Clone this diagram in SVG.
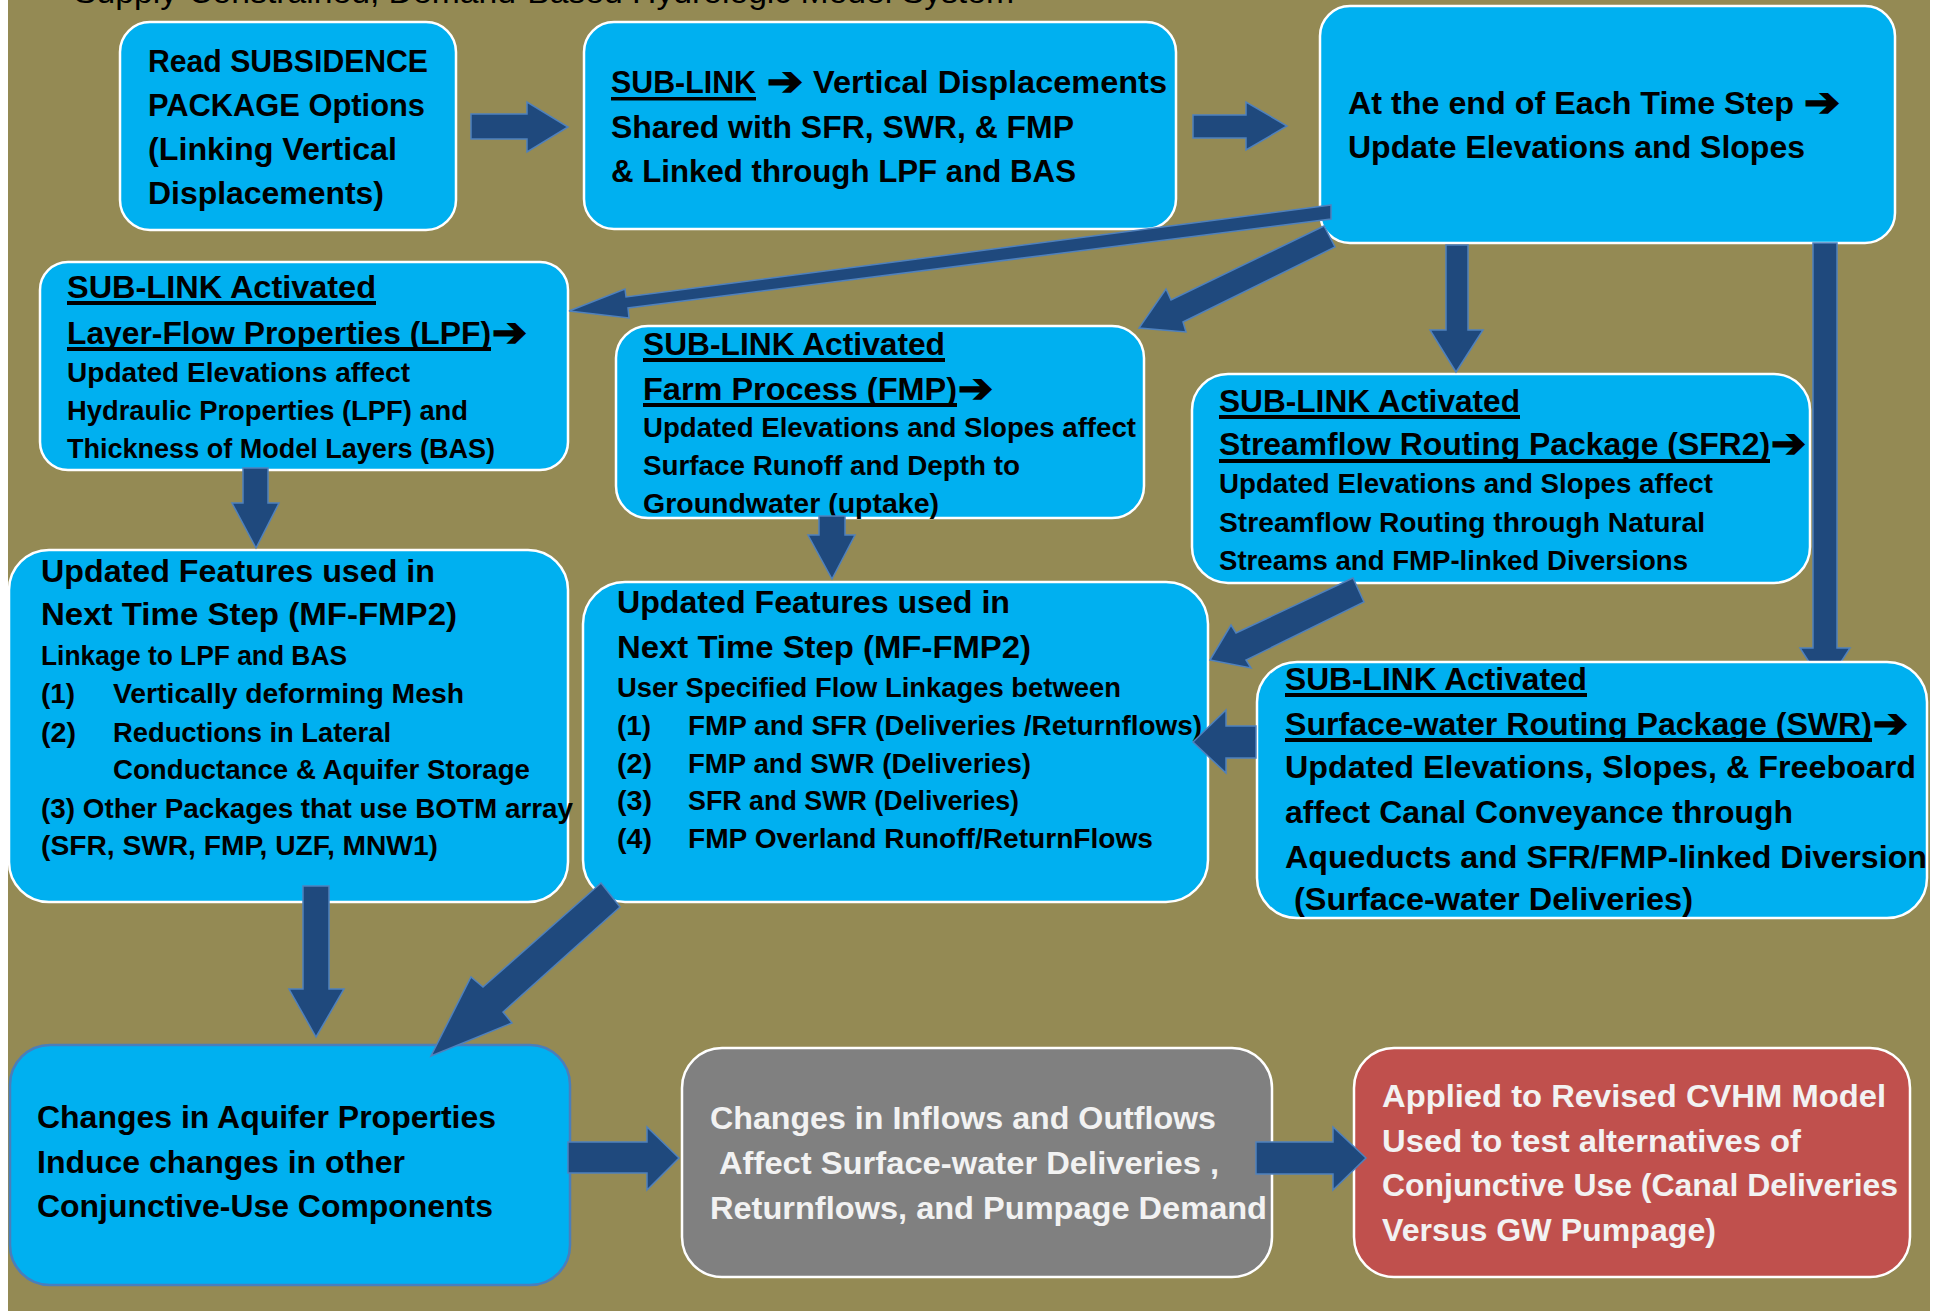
<svg xmlns="http://www.w3.org/2000/svg" width="1944" height="1311" viewBox="0 0 1944 1311">
<style>
.bx{fill:#00B0F0;stroke:#FFFFFF;stroke-width:2.5}
.gy{fill:#808080;stroke:#FFFFFF;stroke-width:2.5}
.rd{fill:#C0504D;stroke:#FFFFFF;stroke-width:2.5}
.aq{fill:#00B0F0;stroke:#4A7EBB;stroke-width:2.5}
.arr{fill:#1F497D;stroke:#4F81BD;stroke-width:1.5;stroke-linejoin:miter}
text{font-family:"Liberation Sans",Arial,sans-serif;font-weight:bold;fill:#000}
.b{font-size:32px}
.s{font-size:27px}
.lt{fill:#F2F2F2}
.ttl{font-weight:normal;font-size:32px}
.sym{font-family:"DejaVu Sans",sans-serif;font-size:40px;font-weight:bold;stroke:#000;stroke-width:1.6}
.ul{fill:#000}
</style>
<rect x="0" y="0" width="1944" height="1311" fill="#FFFFFF"/>
<rect x="8" y="0" width="1922" height="1311" fill="#948A54"/>
<text class="ttl" x="74" y="3" textLength="940" lengthAdjust="spacingAndGlyphs">Supply-Constrained, Demand-Based Hydrologic Model System</text>

<g id="node-read-subsidence">
<rect class="bx" x="120" y="22" width="336" height="208" rx="30"/>
<text class="b" x="148" y="72" textLength="280" lengthAdjust="spacingAndGlyphs">Read SUBSIDENCE</text>
<text class="b" x="148" y="116" textLength="277" lengthAdjust="spacingAndGlyphs">PACKAGE Options</text>
<text class="b" x="148" y="160" textLength="249" lengthAdjust="spacingAndGlyphs">(Linking Vertical</text>
<text class="b" x="148" y="204" textLength="236" lengthAdjust="spacingAndGlyphs">Displacements)</text>
</g>

<g id="node-sublink-vertical">
<rect class="bx" x="584" y="22" width="592" height="207" rx="30"/>
<text class="b" x="611" y="93" textLength="145" lengthAdjust="spacingAndGlyphs">SUB-LINK</text>
<rect class="ul" x="611" y="97" width="145" height="3.5"/>
<text class="sym" x="767" y="95" textLength="36" lengthAdjust="spacingAndGlyphs">➔</text>
<text class="b" x="813" y="93" textLength="354" lengthAdjust="spacingAndGlyphs">Vertical Displacements</text>
<text class="b" x="611" y="138" textLength="463" lengthAdjust="spacingAndGlyphs">Shared with SFR, SWR, &amp; FMP</text>
<text class="b" x="611" y="182" textLength="465" lengthAdjust="spacingAndGlyphs">&amp; Linked through LPF and BAS</text>
</g>

<g id="node-end-time-step">
<rect class="bx" x="1320" y="6" width="575" height="237" rx="30"/>
<text class="b" x="1348" y="114" textLength="446" lengthAdjust="spacingAndGlyphs">At the end of Each Time Step</text>
<text class="sym" x="1804" y="116" textLength="36" lengthAdjust="spacingAndGlyphs">➔</text>
<text class="b" x="1348" y="158" textLength="457" lengthAdjust="spacingAndGlyphs">Update Elevations and Slopes</text>
</g>

<g id="node-lpf">
<rect class="bx" x="40" y="262" width="528" height="208" rx="28"/>
<text class="b" x="67" y="298" textLength="309" lengthAdjust="spacingAndGlyphs">SUB-LINK  Activated</text>
<rect class="ul" x="67" y="301" width="309" height="4"/>
<text class="b" x="67" y="344" textLength="424" lengthAdjust="spacingAndGlyphs">Layer-Flow Properties (LPF)</text>
<rect class="ul" x="67" y="347" width="424" height="4"/>
<text class="sym" x="492" y="346" textLength="35" lengthAdjust="spacingAndGlyphs">➔</text>
<text class="s" x="67" y="382" textLength="343" lengthAdjust="spacingAndGlyphs">Updated Elevations affect</text>
<text class="s" x="67" y="420" textLength="401" lengthAdjust="spacingAndGlyphs">Hydraulic Properties (LPF) and</text>
<text class="s" x="67" y="458" textLength="428" lengthAdjust="spacingAndGlyphs">Thickness of Model Layers (BAS)</text>
</g>

<g id="node-fmp">
<rect class="bx" x="616" y="326" width="528" height="192" rx="32"/>
<text class="b" x="643" y="355" textLength="302" lengthAdjust="spacingAndGlyphs">SUB-LINK Activated</text>
<rect class="ul" x="643" y="358" width="302" height="4"/>
<text class="b" x="643" y="400" textLength="314" lengthAdjust="spacingAndGlyphs">Farm  Process (FMP)</text>
<rect class="ul" x="643" y="403" width="314" height="4"/>
<text class="sym" x="958" y="402" textLength="35" lengthAdjust="spacingAndGlyphs">➔</text>
<text class="s" x="643" y="437" textLength="493" lengthAdjust="spacingAndGlyphs">Updated Elevations and Slopes affect</text>
<text class="s" x="643" y="475" textLength="377" lengthAdjust="spacingAndGlyphs">Surface Runoff and Depth to</text>
<text class="s" x="643" y="513" textLength="296" lengthAdjust="spacingAndGlyphs">Groundwater (uptake)</text>
</g>

<g id="node-sfr2">
<rect class="bx" x="1192" y="374" width="618" height="209" rx="36"/>
<text class="b" x="1219" y="412" textLength="301" lengthAdjust="spacingAndGlyphs">SUB-LINK Activated</text>
<rect class="ul" x="1219" y="415" width="301" height="4"/>
<text class="b" x="1219" y="455" textLength="551" lengthAdjust="spacingAndGlyphs">Streamflow Routing Package (SFR2)</text>
<rect class="ul" x="1219" y="459" width="551" height="4"/>
<text class="sym" x="1771" y="457" textLength="35" lengthAdjust="spacingAndGlyphs">➔</text>
<text class="s" x="1219" y="493" textLength="494" lengthAdjust="spacingAndGlyphs">Updated Elevations and Slopes affect</text>
<text class="s" x="1219" y="532" textLength="486" lengthAdjust="spacingAndGlyphs">Streamflow Routing through Natural</text>
<text class="s" x="1219" y="570" textLength="469" lengthAdjust="spacingAndGlyphs">Streams and FMP-linked Diversions</text>
</g>

<g id="node-features-left">
<rect class="bx" x="9" y="550" width="559" height="352" rx="40"/>
<text class="b" x="41" y="582" textLength="394" lengthAdjust="spacingAndGlyphs">Updated Features used in</text>
<text class="b" x="41" y="625" textLength="416" lengthAdjust="spacingAndGlyphs">Next Time Step (MF-FMP2)</text>
<text class="s" x="41" y="665" textLength="306" lengthAdjust="spacingAndGlyphs">Linkage to LPF and BAS</text>
<text class="s" x="41" y="703" textLength="34" lengthAdjust="spacingAndGlyphs">(1)</text>
<text class="s" x="113" y="703" textLength="351" lengthAdjust="spacingAndGlyphs">Vertically deforming Mesh</text>
<text class="s" x="41" y="742" textLength="35" lengthAdjust="spacingAndGlyphs">(2)</text>
<text class="s" x="113" y="742" textLength="278" lengthAdjust="spacingAndGlyphs">Reductions in Lateral</text>
<text class="s" x="113" y="779" textLength="417" lengthAdjust="spacingAndGlyphs">Conductance &amp; Aquifer Storage</text>
<text class="s" x="41" y="818" textLength="532" lengthAdjust="spacingAndGlyphs">(3) Other Packages that use BOTM array</text>
<text class="s" x="41" y="855" textLength="397" lengthAdjust="spacingAndGlyphs">(SFR, SWR, FMP, UZF, MNW1)</text>
</g>

<g id="node-features-mid">
<rect class="bx" x="583" y="582" width="625" height="320" rx="42"/>
<text class="b" x="617" y="613" textLength="393" lengthAdjust="spacingAndGlyphs">Updated Features used in</text>
<text class="b" x="617" y="658" textLength="414" lengthAdjust="spacingAndGlyphs">Next Time Step (MF-FMP2)</text>
<text class="s" x="617" y="697" textLength="504" lengthAdjust="spacingAndGlyphs">User Specified Flow Linkages between</text>
<text class="s" x="617" y="735" textLength="34" lengthAdjust="spacingAndGlyphs">(1)</text>
<text class="s" x="688" y="735" textLength="514" lengthAdjust="spacingAndGlyphs">FMP and SFR (Deliveries /Returnflows)</text>
<text class="s" x="617" y="773" textLength="35" lengthAdjust="spacingAndGlyphs">(2)</text>
<text class="s" x="688" y="773" textLength="343" lengthAdjust="spacingAndGlyphs">FMP and SWR (Deliveries)</text>
<text class="s" x="617" y="810" textLength="35" lengthAdjust="spacingAndGlyphs">(3)</text>
<text class="s" x="688" y="810" textLength="331" lengthAdjust="spacingAndGlyphs">SFR and SWR (Deliveries)</text>
<text class="s" x="617" y="848" textLength="35" lengthAdjust="spacingAndGlyphs">(4)</text>
<text class="s" x="688" y="848" textLength="465" lengthAdjust="spacingAndGlyphs">FMP Overland Runoff/ReturnFlows</text>
</g>

<g id="connector-under">
<polygon class="arr" points="1813,243 1837,243 1837,648 1850,648 1841,662 1809,662 1800,648 1813,648"/>
</g>

<g id="node-swr">
<rect class="bx" x="1257" y="662" width="670" height="256" rx="40"/>
<text class="b" x="1285" y="690" textLength="302" lengthAdjust="spacingAndGlyphs">SUB-LINK Activated</text>
<rect class="ul" x="1285" y="693" width="302" height="4"/>
<text class="b" x="1285" y="735" textLength="587" lengthAdjust="spacingAndGlyphs">Surface-water Routing Package (SWR)</text>
<rect class="ul" x="1285" y="738" width="587" height="4"/>
<text class="sym" x="1873" y="737" textLength="35" lengthAdjust="spacingAndGlyphs">➔</text>
<text class="b" x="1285" y="778" textLength="631" lengthAdjust="spacingAndGlyphs">Updated Elevations, Slopes, &amp; Freeboard</text>
<text class="b" x="1285" y="823" textLength="508" lengthAdjust="spacingAndGlyphs">affect Canal Conveyance through</text>
<text class="b" x="1285" y="868" textLength="642" lengthAdjust="spacingAndGlyphs">Aqueducts and SFR/FMP-linked Diversion</text>
<text class="b" x="1294" y="910" textLength="399" lengthAdjust="spacingAndGlyphs">(Surface-water Deliveries)</text>
</g>

<g id="node-aquifer">
<rect class="aq" x="10" y="1045" width="560" height="240" rx="40"/>
<text class="b" x="37" y="1128" textLength="459" lengthAdjust="spacingAndGlyphs">Changes in Aquifer Properties</text>
<text class="b" x="37" y="1173" textLength="368" lengthAdjust="spacingAndGlyphs">Induce changes in other</text>
<text class="b" x="37" y="1217" textLength="456" lengthAdjust="spacingAndGlyphs">Conjunctive-Use Components</text>
</g>

<g id="node-inflows">
<rect class="gy" x="682" y="1048" width="590" height="229" rx="40"/>
<text class="b lt" x="710" y="1129" textLength="506" lengthAdjust="spacingAndGlyphs">Changes in Inflows and Outflows</text>
<text class="b lt" x="719" y="1174" textLength="500" lengthAdjust="spacingAndGlyphs">Affect Surface-water Deliveries ,</text>
<text class="b lt" x="710" y="1219" textLength="557" lengthAdjust="spacingAndGlyphs">Returnflows, and Pumpage Demand</text>
</g>

<g id="node-cvhm">
<rect class="rd" x="1354" y="1048" width="556" height="229" rx="40"/>
<text class="b lt" x="1382" y="1107" textLength="504" lengthAdjust="spacingAndGlyphs">Applied to Revised CVHM Model</text>
<text class="b lt" x="1382" y="1152" textLength="419" lengthAdjust="spacingAndGlyphs">Used to test alternatives of</text>
<text class="b lt" x="1382" y="1196" textLength="516" lengthAdjust="spacingAndGlyphs">Conjunctive Use (Canal Deliveries</text>
<text class="b lt" x="1382" y="1241" textLength="334" lengthAdjust="spacingAndGlyphs">Versus GW Pumpage)</text>
</g>

<g id="connectors">
<polygon class="arr" points="471,114 527,114 527,102 568,127 527,152 527,139 471,139"/>
<polygon class="arr" points="1193,115 1246,115 1246,102 1287,126 1246,150 1246,138 1193,138"/>
<polygon class="arr" points="1331,205 626,297 625,289 569,311 629,318 628,308 1331,219"/>
<polygon class="arr" points="1324,226 1171,300 1166,289 1139,328 1186,332 1183,322 1335,247"/>
<polygon class="arr" points="1446,245 1468,245 1468,330 1483,330 1456,372 1430,330 1446,330"/>
<polygon class="arr" points="243,468 268,468 268,503 279,503 256,548 232,503 243,503"/>
<polygon class="arr" points="819,516 845,516 845,535 855,535 832,579 808,535 819,535"/>
<polygon class="arr" points="1353,578 1236,633 1231,625 1210,660 1251,668 1246,660 1364,602"/>
<polygon class="arr" points="1256,726 1226,726 1226,710 1193,742 1226,773 1226,758 1256,758"/>
<polygon class="arr" points="303,886 329,886 329,989 344,989 316,1037 289,989 303,989"/>
<polygon class="arr" points="601,883 483,987 471,977 431,1056 512,1023 503,1012 620,907"/>
<polygon class="arr" points="568,1142 647,1142 647,1127 679,1158 647,1190 647,1173 568,1173"/>
<polygon class="arr" points="1256,1142 1333,1142 1333,1127 1366,1158 1333,1190 1333,1174 1256,1174"/>
</g>
</svg>
